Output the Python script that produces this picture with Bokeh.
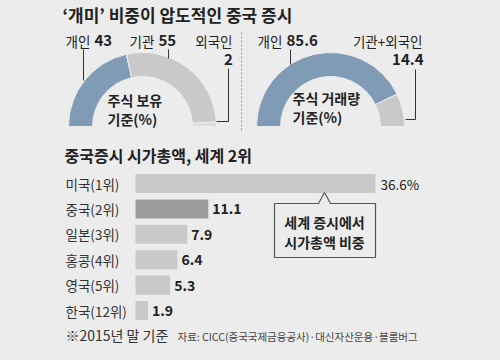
import numpy as np
from bokeh.plotting import figure
from bokeh.models import Range1d
from bokeh.core.properties import value
from bokeh.embed import file_html
from bokeh.resources import INLINE

# ---------------- data ----------------
title = "‘개미’ 비중이 압도적인 중국 증시"
hold_names = ["개인", "기관", "외국인"]
hold_values = [43, 55, 2]
trade_names = ["개인", "기관+외국인"]
trade_values = [85.6, 14.4]
bar_title = "중국증시 시가총액, 세계 2위"
countries = ["미국(1위)", "중국(2위)", "일본(3위)", "홍콩(4위)", "영국(5위)", "한국(12위)"]
shares = [36.6, 11.1, 7.9, 6.4, 5.3, 1.9]
note = "※2015년 말 기준"
source = "자료: CICC(중국국제금융공사)·대신자산운용·블룸버그"

# ---------------- style ----------------
BG = "#ececec"
BLUE = "#7f9bb5"
GRAY = "#c9c9c9"
LIGHT = "#dedede"
DARK = "#9b9b9b"
TXT = "#222222"
LINE = "#333333"
KR = value("Noto Sans CJK KR")

p = figure(width=484, height=344, x_range=Range1d(8, 492), y_range=Range1d(8, 352),
           output_backend="svg", toolbar_location=None,
           x_axis_type=None, y_axis_type=None, min_border=0)
p.outline_line_color = None
p.background_fill_color = BG
p.border_fill_color = BG
p.xgrid.visible = False
p.ygrid.visible = False


def Y(py):
    return 360 - py


def txt(x, y, s, size, bold=False, color=TXT, align="left", **kw):
    p.text(x=[x], y=[Y(y)], text=[s], text_font=KR, text_font_size=size,
           text_font_style="bold" if bold else "normal", text_color=color,
           text_align=align, text_baseline="middle", **kw)


def lines(pts):
    p.line(x=[a for a, b in pts], y=[Y(b) for a, b in pts], line_color=LINE, line_width=1)


# ---------------- title ----------------
txt(70, 22, title, "17px", bold=True)

# ---------------- donuts ----------------
R_IN, R_OUT, CY = 50, 74, 134


def donut(cx, vals, colors):
    v = np.array(vals, dtype=float)
    cum = np.concatenate([[0], np.cumsum(v)]) / v.sum()
    start = np.pi - cum[1:] * np.pi
    end = np.pi - cum[:-1] * np.pi
    p.annular_wedge(x=[cx] * len(v), y=[Y(CY)] * len(v), inner_radius=R_IN, outer_radius=R_OUT,
                    start_angle=start, end_angle=end, fill_color=colors,
                    line_color=BG, line_width=1)


donut(150, hold_values, [BLUE, GRAY, LIGHT])
donut(338, trade_values, [BLUE, GRAY])

# left donut labels
txt(73, 48, hold_names[0], "13.5px")
txt(102, 48, f"{hold_values[0]}", "15px", bold=True)
txt(137, 48, hold_names[1], "13.5px")
txt(166, 48, f"{hold_values[1]}", "15px", bold=True)
txt(240, 48, hold_names[2], "13.5px", align="right")
txt(236, 67, f"{hold_values[2]}", "15px", bold=True, align="center")
lines([(91, 57), (91, 88)])
lines([(176, 57), (176, 66)])
lines([(236, 76), (236, 129), (224, 129)])
txt(115, 107, "주식 보유", "14px", bold=True)
txt(115, 126, "기준(%)", "14px", bold=True)

# right donut labels
txt(265, 48, trade_names[0], "13.5px")
txt(294, 48, f"{trade_values[0]}", "15px", bold=True)
txt(430, 48, trade_names[1], "13.5px", align="right")
txt(431, 67, f"{trade_values[1]}", "15px", bold=True, align="right")
lines([(298, 57), (298, 72)])
lines([(423, 77), (423, 127), (413, 127)])
txt(300, 105, "주식 거래량", "14px", bold=True)
txt(300, 124, "기준(%)", "14px", bold=True)

# divider
p.segment(x0=[249], y0=[Y(40)], x1=[249], y1=[Y(138)], line_color="#999999",
          line_width=1, line_dash="2 2")

# ---------------- bars ----------------
ORIGIN, PXU = 143, 6.557
p.extra_x_ranges = {"share": Range1d((8 - ORIGIN) / PXU, (492 - ORIGIN) / PXU)}
ROW0, ROWH = Y(191), 25.4
p.extra_y_ranges = {"row": Range1d((ROW0 - 8) / ROWH, (ROW0 - 352) / ROWH)}

idx = list(range(len(countries)))
bar_colors = [DARK if c.startswith("중국") else GRAY for c in countries]
p.hbar(y=idx, left=0, right=shares, height=0.75, fill_color=bar_colors, line_color=None,
       x_range_name="share", y_range_name="row")

p.text(x=[73] * len(idx), y=idx, text=countries, text_font=KR, text_font_size="13.5px",
       text_color="#333333", text_baseline="middle", y_range_name="row")
val_text = [f"{s}%" if i == 0 else f"{s}" for i, s in enumerate(shares)]
p.text(x=shares[:1], y=idx[:1], text=val_text[:1], text_font=KR, text_font_size="13.5px",
       text_color=TXT, text_baseline="middle", x_offset=5,
       x_range_name="share", y_range_name="row")
p.text(x=shares[1:], y=idx[1:], text=val_text[1:], text_font=KR, text_font_size="14px",
       text_font_style="bold", text_color=TXT, text_baseline="middle", x_offset=4,
       x_range_name="share", y_range_name="row")

txt(72, 162, bar_title, "16px", bold=True)

# callout
cx = 332
box = [(282, 211), (cx - 6, 211), (cx, 200), (cx + 6, 211), (383, 211), (383, 265), (282, 265)]
p.patch(x=[a for a, b in box], y=[Y(b) for a, b in box], fill_color=BG,
        line_color="#555555", line_width=1.2)
txt(cx, 229, "세계 증시에서", "14px", bold=True, align="center")
txt(cx, 249, "시가총액 비중", "14px", bold=True, align="center")

# footer
txt(73, 342, note, "14px", color="#333333")
txt(185, 344, source, "10.5px", color="#444444")

html = file_html(p, INLINE)
html = html.replace("<head>", "<head><style>body{background:#ececec;}</style>", 1)
open("out.html", "w").write(html)
